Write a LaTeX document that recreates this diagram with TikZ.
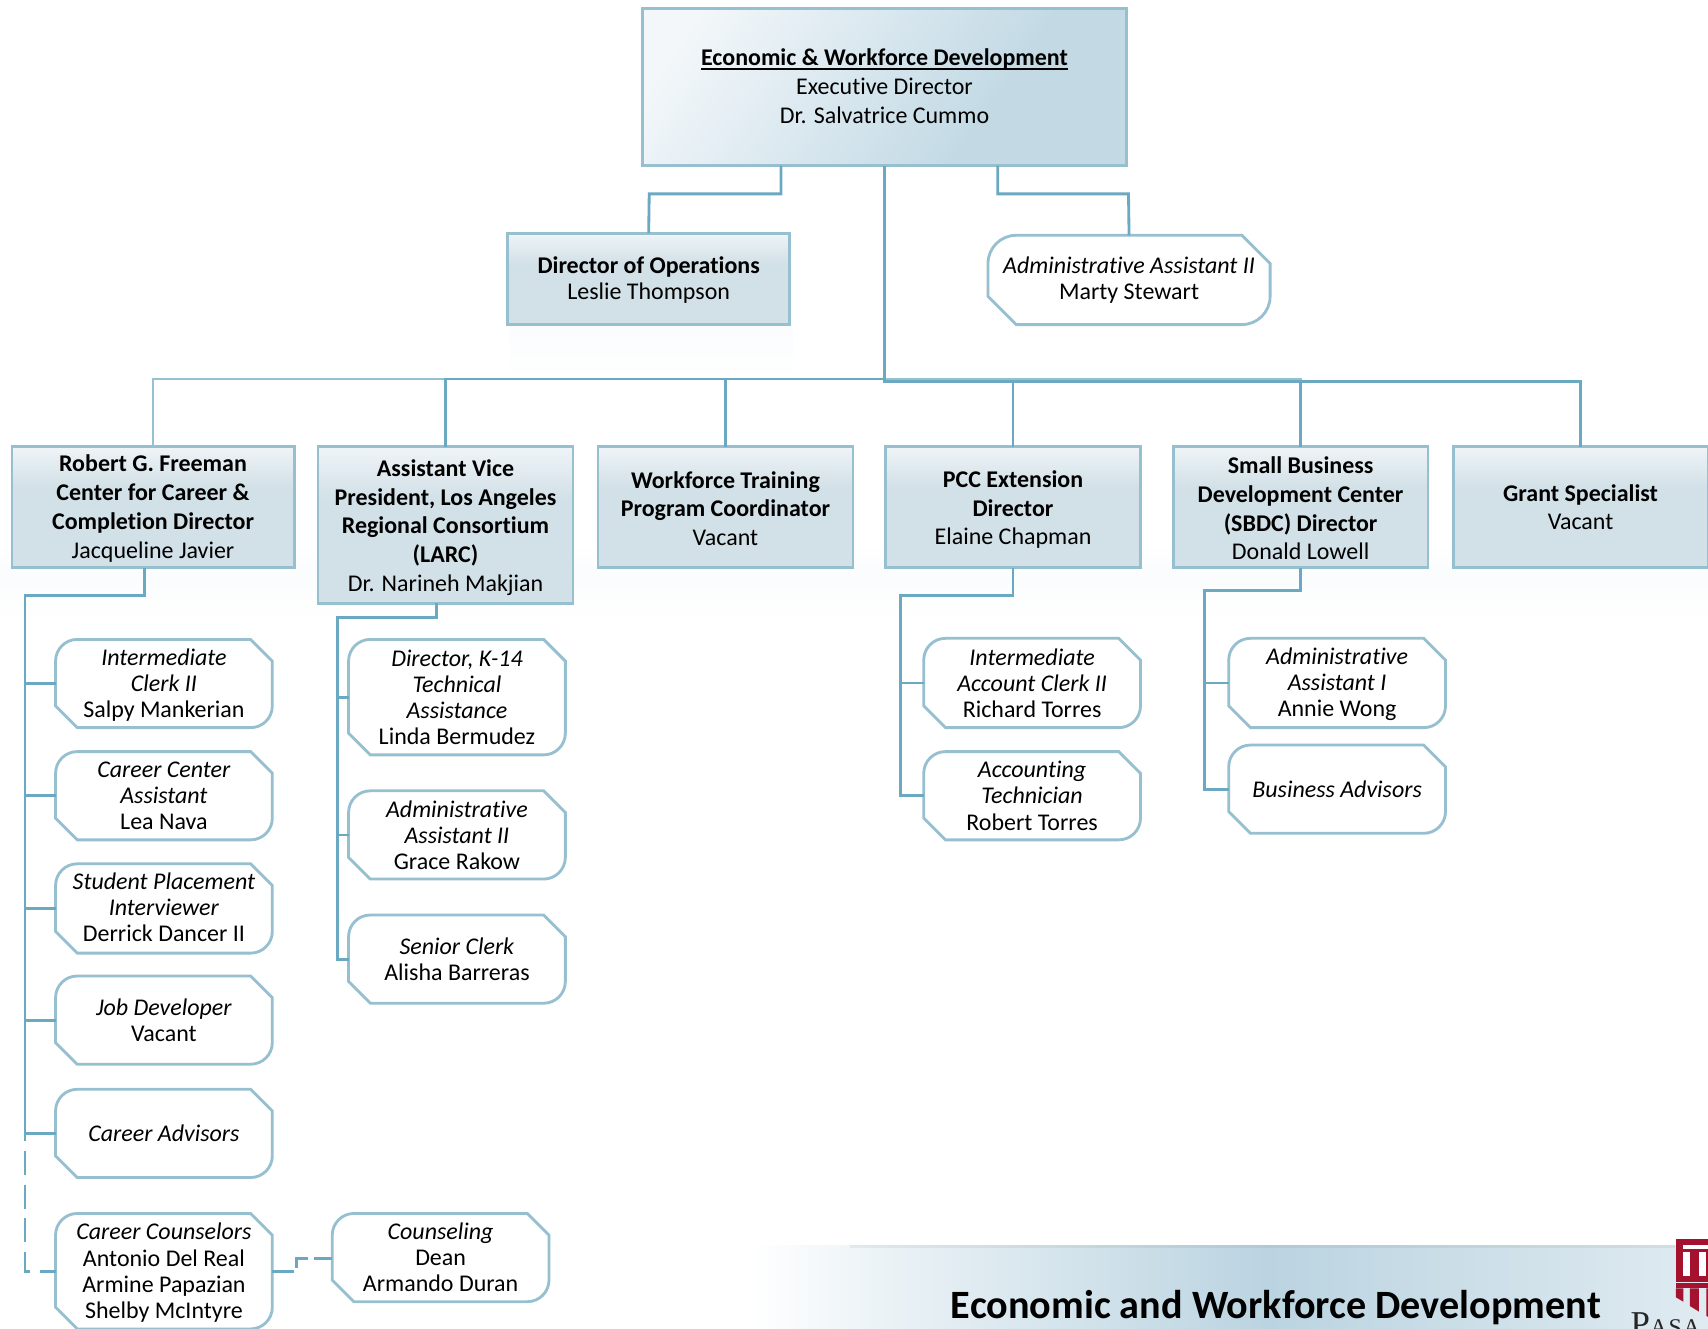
\documentclass[tikz,border=0pt]{standalone}
\usepackage{fontspec}
\setmainfont{Carlito}[Ligatures=NoCommon]
\newfontfamily\logofont[LetterSpace=5]{Liberation Serif}
\usetikzlibrary{calc}
\definecolor{lineD}{HTML}{6BA8C1}
\definecolor{lineL}{HTML}{97C0D0}
\definecolor{edgeB}{HTML}{96BFD0}
\definecolor{fillA}{HTML}{D2E0E7}
\definecolor{fillB}{HTML}{EFF4F7}
\definecolor{fillC}{HTML}{F3F7FA}
\definecolor{fillD}{HTML}{C3DAE5}
\definecolor{ftrD}{HTML}{BBD4E1}
\definecolor{ftrR}{HTML}{E0EBF1}
\definecolor{pccred}{HTML}{A4122F}
\pgfdeclareverticalshading{boxv}{100bp}{color(0bp)=(fillA); color(25bp)=(fillA); color(58bp)=(fillA); color(75bp)=(fillB); color(100bp)=(fillB)}
\pgfdeclareverticalshading{boxd}{100bp}{color(0bp)=(fillD); color(36bp)=(fillD); color(78bp)=(fillC); color(100bp)=(fillC)}
\pgfdeclarehorizontalshading{ftrsh}{100bp}{color(0bp)=(white); color(25bp)=(white); color(32bp)=(ftrD!30); color(52bp)=(ftrD); color(75bp)=(ftrR); color(100bp)=(ftrR)}
\newcommand{\ulbf}[1]{\setbox0\hbox{#1}\rlap{\rule[-1.9pt]{\wd0}{0.8pt}}\box0}
\newcommand{\dnA}{\rule{0pt}{9pt}}
\newcommand{\dnB}{\rule{0pt}{10pt}}
\newcommand{\upA}{\rule[-1pt]{0pt}{0pt}}
\tikzset{
  every node/.style={font=\fontsize{11pt}{13.2pt}\selectfont, text=black, align=center, inner sep=0pt, outer sep=0pt},
  conn/.style={draw=lineD, line width=1.3pt},
  connL/.style={draw=lineL, line width=1.3pt},
  connDash/.style={draw=lineD, line width=1.3pt, dash pattern=on 11pt off 4.5pt},
  bluebox/.style={draw=edgeB, line width=1.3pt, shading=boxv, rectangle},
  topbox/.style={draw=edgeB, line width=1.3pt, shading=boxd, shading angle=55, rectangle},
  sniptxt/.style={rectangle, font=\fontsize{11pt}{12pt}\selectfont},
  snipline/.style={draw=edgeB, line width=1.3pt, fill=white},
}
% \snipbox{name}{x-left}{y-top}{width}{height}{text}
\newcommand{\snipbox}[6]{%
  \pgfmathsetmacro{\snipS}{0.05*#4}%
  \node[rectangle, minimum width=#4*0.5pt, minimum height=#5*0.5pt, anchor=north west] (#1) at (#2,#3) {};%
  \draw[snipline] (#1.north west) ++(\snipS pt,0)
     -- ($(#1.north east)+(-\snipS pt,0)$) -- ($(#1.north east)+(0,-\snipS pt)$)
     -- ($(#1.south east)+(0,\snipS pt)$) arc[start angle=0,end angle=-90,radius=\snipS pt]
     -- ($(#1.south west)+(\snipS pt,0)$) -- ($(#1.south west)+(0,\snipS pt)$)
     -- ($(#1.north west)+(0,-\snipS pt)$) arc[start angle=180,end angle=90,radius=\snipS pt] -- cycle;%
  \node[sniptxt] (#1t) at (#1.center) {#6};%
}
\begin{document}
\begin{tikzpicture}[x=0.5pt,y=-0.5pt]
\useasboundingbox (0,0) rectangle (1568,1220);
\clip (0,0) rectangle (1568,1220);
% soft reflections, built of stripes
\foreach \i in {0,...,11} {
  \pgfmathsetmacro{\p}{40-\i*3.4}
  \fill[fillC!\p!white] (468,299+\i*4) rectangle (728,345);
  \fill[fillC!\p!white] (0,522+\i*4) rectangle (1568,572);
}
\foreach \i in {0,...,5} {
  \pgfmathsetmacro{\p}{6.5*\i}
  \fill[fillC!\p!white] (0,500+\i*4) rectangle (1568,524);
}
% footer band
\fill[shading=ftrsh] (690,1143) rectangle (1568,1220);
\fill[black, opacity=.05] (780,1143) rectangle (1538,1146);

% boxes
\node[topbox, anchor=north west, minimum width=222pt, minimum height=72pt] (top) at (590,8) {\textbf{\ulbf{Economic \& Workforce Development}}\\Executive Director\\Dr. Salvatrice Cummo\upA};
\node[bluebox, anchor=north west, minimum width=129.5pt, minimum height=42pt, font=\fontsize{11pt}{12pt}\selectfont] (ops) at (466,214) {\dnA\textbf{Director of Operations}\\Leslie Thompson};
\node[bluebox, anchor=north west, minimum width=129.5pt, minimum height=55.5pt] (free) at (11,410) {\dnA\textbf{Robert G. Freeman}\\\textbf{Center for Career \&}\\\textbf{Completion Director}\\Jacqueline Javier};
\node[bluebox, anchor=north west, minimum width=117pt, minimum height=72pt] (avp) at (292,410) {\dnB\textbf{Assistant Vice}\\\textbf{President, Los Angeles}\\\textbf{Regional Consortium}\\\textbf{(LARC)}\\Dr. Narineh Makjian};
\node[bluebox, anchor=north west, minimum width=117pt, minimum height=55.5pt] (wtp) at (549,410) {\dnA\textbf{Workforce Training}\\\textbf{Program Coordinator}\\Vacant};
\node[bluebox, anchor=north west, minimum width=117pt, minimum height=55.5pt] (pcc) at (813,410) {\dnB\textbf{PCC Extension}\\\textbf{Director}\\Elaine Chapman};
\node[bluebox, anchor=north west, minimum width=117pt, minimum height=55.5pt] (sbdc) at (1077,410) {\dnA\textbf{Small Business}\\\textbf{Development Center}\\\textbf{(SBDC) Director}\\Donald Lowell};
\node[bluebox, anchor=north west, minimum width=117pt, minimum height=55.5pt] (grant) at (1334,410) {\textbf{Grant Specialist}\\Vacant};

% connectors
\coordinate (opsA) at (717,152);
\coordinate (admA) at (916,152);
\coordinate (busL) at (812,348);
\coordinate (busR) at (812,350.5);
\draw[conn] (opsA) |- (596,178) -- (ops.north);
\draw[connL] (free.north) |- (busL -| avp.north);
\draw[conn] (avp.north) |- (busL);
\draw[conn] (wtp.north) -- (wtp.north |- busL);
\draw[connL] (busL) -| (sbdc.north);
\draw[conn] (top.south) -- (busR) -| (grant.north);
\draw[conn] (pcc.north) -- (pcc.north |- busR);
\draw[conn] (sbdc.north) -- (sbdc.north |- busR);

\snipbox{adm}{907}{216}{259}{82}{\textit{Administrative Assistant II}\\Marty Stewart}
\draw[conn] (admA) |- (1036,178) -- (adm.north);

\snipbox{f1}{51}{587}{199}{81}{\dnA\textit{Intermediate}\\\textit{Clerk II}\\Salpy Mankerian}
\snipbox{f2}{51}{690}{199}{81}{\textit{Career Center}\\\textit{Assistant}\\Lea Nava}
\snipbox{f3}{51}{793}{199}{82}{\textit{Student Placement}\\\textit{Interviewer}\\Derrick Dancer II\upA}
\snipbox{f4}{51}{896}{199}{81}{\textit{Job Developer}\\Vacant}
\snipbox{f5}{51}{1000}{199}{81}{\textit{Career Advisors}}
\snipbox{f6}{51}{1114}{199}{106}{\dnA\textit{Career Counselors}\\Antonio Del Real\\Armine Papazian\\Shelby McIntyre}
\snipbox{dean}{305}{1114}{199}{81}{\textit{Counseling}\\Dean\\Armando Duran}
\snipbox{a1}{320}{587}{199}{106}{\textit{Director, K-14}\\\textit{Technical}\\\textit{Assistance}\\Linda Bermudez}
\snipbox{a2}{320}{726}{199}{81}{\textit{Administrative}\\\textit{Assistant II}\\Grace Rakow}
\snipbox{a3}{320}{840}{199}{81}{\textit{Senior Clerk}\\Alisha Barreras}
\snipbox{p1}{848}{586}{199}{82}{\textit{Intermediate}\\\textit{Account Clerk II}\\Richard Torres}
\snipbox{p2}{848}{690}{199}{81}{\textit{Accounting}\\\textit{Technician}\\Robert Torres}
\snipbox{s1}{1128}{586}{199}{82}{\dnA\textit{Administrative}\\\textit{Assistant I}\\Annie Wong}
\snipbox{s2}{1128}{684}{199}{81}{\textit{Business Advisors}}

\coordinate (fs) at (23,547);
\coordinate (as) at (310,567);
\coordinate (ps) at (827,547);
\coordinate (ss) at (1106,542);
\coordinate (fa) at (133,521);
\coordinate (aa) at (401,554);
\coordinate (fd) at (23,1167);
\coordinate (ce) at (272,1167);
\coordinate (cf) at (272,1155);
\draw[conn] (fa) |- (fs) -- (fs |- f5.west) -- (f5.west);
\foreach \c in {f1,f2,f3,f4} \draw[conn] (\c.west) -- (\c.west -| fs);
\draw[connDash, dash phase=7.5pt] (fs |- f5.west) -- (fd) -- (f6.west |- fd);
\draw[connDash, dash pattern=on 10pt off 2.5pt] (f6.east |- ce) -- (ce) -- (cf) -- (dean.west |- cf);
\draw[conn] (aa) |- (as) -- (as |- a3.west) -- (a3.west);
\foreach \c in {a1,a2} \draw[conn] (\c.west) -- (\c.west -| as);
\draw[conn] (pcc.south) |- (ps) -- (ps |- p2.west) -- (p2.west);
\draw[conn] (p1.west) -- (p1.west -| ps);
\draw[conn] (sbdc.south) |- (ss) -- (ss |- s2.west) -- (s2.west);
\draw[conn] (s1.west) -- (s1.west -| ss);

% footer text
\node[font=\bfseries\fontsize{18.45pt}{20pt}\selectfont, anchor=base west] (ftr) at (873,1210) {Economic and Workforce Development};
% logo
\fill[pccred] (1538.6,1137.4) rectangle (1568,1176.5);
\fill[white] (1545.3,1143) rectangle (1568,1147);
\fill[white] (1545.3,1149.6) rectangle (1551.4,1171);
\fill[white] (1559.5,1149.6) rectangle (1566.6,1171);
\fill[pccred] (1538.6,1178) rectangle (1568,1182.7);
\fill[pccred] (1538.6,1182.7) -- (1545.3,1182.7) -- (1545.3,1195) -- (1538.6,1191) -- cycle;
\fill[pccred] (1551.4,1182.7) -- (1559.5,1182.7) -- (1559.5,1204) -- (1551.4,1199) -- cycle;
\fill[pccred] (1566.6,1182.7) -- (1568,1182.7) -- (1568,1209) -- (1566.6,1208) -- cycle;
\node[font=\logofont\fontsize{11pt}{12pt}\selectfont, text=black!85, anchor=base west] (pas) at (1497,1226) {{\fontsize{16pt}{16pt}\selectfont P}ASA};
\end{tikzpicture}
\end{document}
